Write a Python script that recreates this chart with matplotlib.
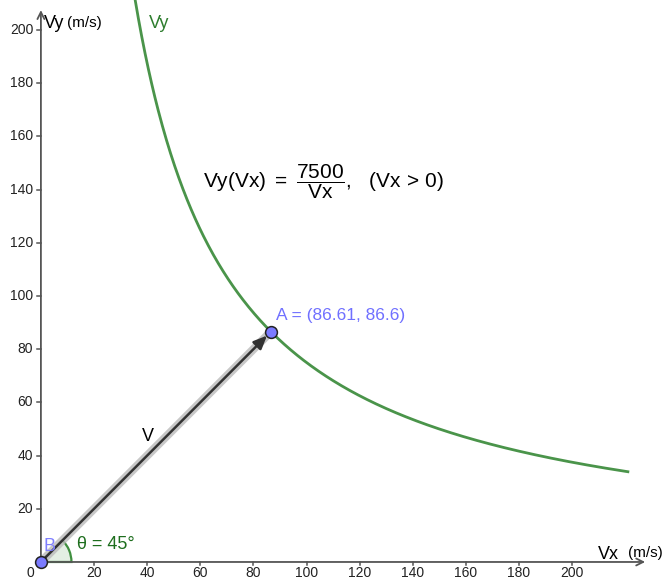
import numpy as np
import matplotlib
matplotlib.use("Agg")
import matplotlib.pyplot as plt
from matplotlib.patches import Wedge

plt.rcParams['font.family'] = ['Liberation Sans', 'DejaVu Sans']
plt.rcParams['mathtext.fontset'] = 'custom'
plt.rcParams['mathtext.rm'] = 'Liberation Sans'
plt.rcParams['mathtext.sf'] = 'Liberation Sans'
plt.rcParams['mathtext.it'] = 'Liberation Sans'

# data
k_const = 7500
x_ticks = [20, 40, 60, 80, 100, 120, 140, 160, 180, 200]
y_ticks = [20, 40, 60, 80, 100, 120, 140, 160, 180, 200]
point_A = (86.61, 86.6)
point_B = (0, 0)
theta_deg = 45
curve_x_end = 221

fig = plt.figure(figsize=(6.64, 5.79), dpi=100)
ax = fig.add_axes([0, 0, 1, 1])
ax.set_xlim(-15.4, 234.6)
ax.set_ylim(-6.4, 211.3)
ax.axis('off')

axis_col = '#555555'
tick_col = '#222222'
# axes with arrows
ax.annotate('', xy=(227.5, 0), xytext=(0, 0),
            arrowprops=dict(arrowstyle='->,head_length=0.5,head_width=0.25', color=axis_col, lw=1.3,
                            shrinkA=0, shrinkB=0))
ax.annotate('', xy=(0, 207.5), xytext=(0, 0),
            arrowprops=dict(arrowstyle='->,head_length=0.5,head_width=0.25', color=axis_col, lw=1.3,
                            shrinkA=0, shrinkB=0))

for t in x_ticks:
    ax.plot([t, t], [0, -1.2], color=axis_col, lw=1.1)
    ax.text(t, -4.1, str(t), ha='center', va='center', fontsize=10, color=tick_col)
for t in y_ticks:
    ax.plot([0, -1.3], [t, t], color=axis_col, lw=1.1)
    ax.text(-2.9, t, str(t), ha='right', va='center', fontsize=10, color=tick_col)
ax.text(-4.0, -4.1, '0', ha='center', va='center', fontsize=10, color=tick_col)

ax.text(1.2, 202.4, 'Vy', ha='left', va='center', fontsize=13, color='black')
ax.text(9.8, 202.6, '(m/s)', ha='left', va='center', fontsize=11, color='black')
ax.text(213.6, 2.9, 'Vx', ha='center', va='center', fontsize=13, color='black')
ax.text(227.4, 3.3, '(m/s)', ha='center', va='center', fontsize=11, color='black')

# curve
vx = np.linspace(k_const / 211.3, curve_x_end, 600)
ax.plot(vx, k_const / vx, color='#4a944a', lw=2)
ax.text(40.6, 202.6, 'Vy', ha='left', va='center', fontsize=13, color='#2e7d2e')

# formula
ax.text(61.0, 142.8,
        r'$\mathrm{Vy(Vx)}\ =\ \dfrac{\mathrm{7500}}{\mathrm{Vx}}\mathrm{,}\quad \mathrm{(Vx}\,>\,\mathrm{0)}$',
        ha='left', va='center', fontsize=15, color='black')

# angle wedge
ax.add_patch(Wedge((0, 0), 11.5, 0, theta_deg, facecolor='#4a944a', alpha=0.15, edgecolor='none'))
ax.add_patch(Wedge((0, 0), 11.5, 0, theta_deg, facecolor='none', edgecolor='#3f8f3f', lw=1.6))
ax.text(13.7, 6.7, 'θ = 45°', ha='left', va='center', fontsize=13, color='#1e6e1e')

# vector with highlight shadow
ax.plot([point_B[0], point_A[0]], [point_B[1], point_A[1]], color='#bbbbbb', lw=6, alpha=0.8,
        solid_capstyle='round')
ax.annotate('', xy=point_A, xytext=point_B,
            arrowprops=dict(arrowstyle='-|>,head_length=0.8,head_width=0.35', color='#333333', lw=1.8,
                            shrinkA=0, shrinkB=4))
ax.text(40.3, 47.0, 'V', ha='center', va='center', fontsize=13, color='black')

# points
ax.plot(*point_A, 'o', ms=8.5, mfc='#7b7bff', mec='#222222', mew=1.1, zorder=5)
ax.plot(*point_B, 'o', ms=8.5, mfc='#7b7bff', mec='#222222', mew=1.1, zorder=5)
ax.text(88.5, 92.6, 'A = (86.61, 86.6)', ha='left', va='center', fontsize=12.5, color='#7070ff')
ax.text(0.8, 5.8, 'B', ha='left', va='center', fontsize=13, color='#8080ff')

fig.savefig('out.png', dpi=100)
